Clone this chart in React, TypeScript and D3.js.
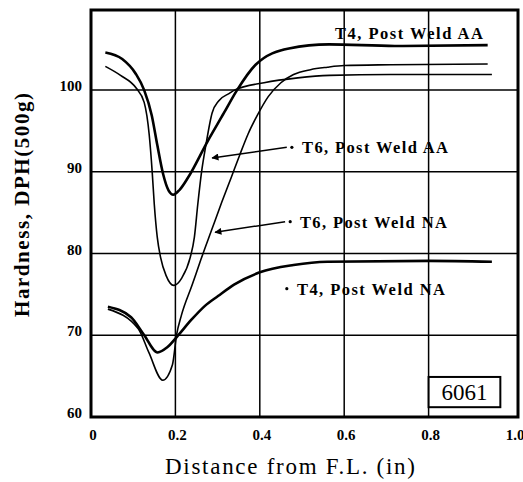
import React from 'react';
import * as d3 from 'd3';

// hardness traverse, 6061
const t4AA = [
  [0.034, 104.6], [0.074, 103.8], [0.106, 102.0], [0.126, 100.0], [0.144, 96.9],
  [0.157, 93.3], [0.171, 89.7], [0.184, 87.7], [0.195, 87.2], [0.21, 87.8],
  [0.23, 89.3], [0.276, 93.7], [0.315, 97.2], [0.345, 99.9], [0.39, 103.1],
  [0.469, 105.1], [0.564, 105.6], [0.72, 105.4], [0.94, 105.5],
];
const t6AA = [
  [0.034, 102.9], [0.07, 101.8], [0.107, 100.25], [0.126, 98.5], [0.138, 94.5],
  [0.145, 90], [0.15, 86], [0.157, 82], [0.165, 79.5], [0.178, 77.3],
  [0.196, 76.1], [0.215, 77], [0.235, 79.5], [0.245, 82], [0.253, 86],
  [0.262, 90], [0.272, 93.2], [0.287, 97.2], [0.303, 98.7], [0.328, 99.6],
  [0.34, 100], [0.41, 100.9], [0.49, 101.5], [0.565, 101.8], [0.71, 101.9], [0.95, 101.9],
];
const t6NA = [
  [0.04, 73.2], [0.112, 70.8], [0.137, 67.9], [0.17, 64.5], [0.193, 66.4],
  [0.203, 70.1], [0.214, 72.4], [0.24, 76.2], [0.26, 79.2], [0.286, 82.9],
  [0.31, 86.3], [0.333, 89.4], [0.352, 92.0], [0.372, 94.6], [0.394, 96.9],
  [0.42, 99.2], [0.45, 100.9], [0.48, 101.9], [0.52, 102.5], [0.56, 102.8],
  [0.6, 103.0], [0.71, 103.1], [0.94, 103.2],
];
const t4NA = [
  [0.04, 73.5], [0.095, 72.2], [0.125, 70.1], [0.158, 67.9], [0.18, 68.5],
  [0.205, 69.9], [0.238, 71.9], [0.27, 73.6], [0.301, 74.8], [0.339, 76.2],
  [0.40, 77.7], [0.48, 78.6], [0.56, 79], [0.8, 79.1], [0.95, 79],
];

const xTicks = [0, 0.2, 0.4, 0.6, 0.8, 1.0];
const xTickLabels = ['0', '0.2', '0.4', '0.6', '0.8', '1.0'];
const yTicks = [60, 70, 80, 90, 100];
const xGrid = [0.2, 0.4, 0.6, 0.8];
const yGrid = [70, 80, 90, 100];

const series = [
  { name: 'T4, Post Weld AA', data: t4AA, width: 2.6 },
  { name: 'T6, Post Weld AA', data: t6AA, width: 1.6 },
  { name: 'T6, Post Weld NA', data: t6NA, width: 1.6 },
  { name: 'T4, Post Weld NA', data: t4NA, width: 2.6 },
];

// label anchors in data units
const labels = [
  { text: 'T4, Post Weld AA', x: 0.578, y: 106.25, len: 148 },
  { text: 'T6, Post Weld AA', x: 0.5, y: 92.3, len: 146, dot: [0.476, 93.0], arrow: [0.464, 93.0, 0.287, 91.7] },
  { text: 'T6, Post Weld NA', x: 0.495, y: 83.1, len: 147, dot: [0.472, 83.9], arrow: [0.46, 83.9, 0.294, 82.6] },
  { text: 'T4, Post Weld NA', x: 0.488, y: 74.9, len: 148, dot: [0.464, 75.7] },
];

const font = '"Liberation Serif", "Times New Roman", serif';

export default function App() {
  const width = 523;
  const height = 482;
  const x = d3.scaleLinear().domain([0, 1]).range([91, 513]);
  const y = d3.scaleLinear().domain([60, 109.8]).range([417, 10]);
  const left = x(0);
  const right = x(1) + 5;
  const top = y(109.8);
  const bottom = y(60);

  const line = d3.line<number[]>()
    .x(d => x(d[0]))
    .y(d => y(d[1]))
    .curve(d3.curveMonotoneX);

  const boxX0 = x(0.8);
  const boxX1 = x(0.97);
  const boxY0 = y(64.9);
  const boxY1 = y(61.2);

  return (
    <svg width={width} height={height} style={{ position: 'absolute', left: 0, top: 0, background: '#fff' }}
      fontFamily={font}>
      <defs>
        <marker id="arr" viewBox="0 0 10 10" refX="9" refY="5" markerWidth="9" markerHeight="7"
          markerUnits="userSpaceOnUse" orient="auto">
          <path d="M0,0 L10,5 L0,10 z" fill="#000" />
        </marker>
      </defs>

      {/* grid */}
      {xGrid.map(v => (
        <line key={'gx' + v} x1={x(v)} x2={x(v)} y1={top} y2={bottom} stroke="#000" strokeWidth={1.5} />
      ))}
      {yGrid.map(v => (
        <line key={'gy' + v} x1={left} x2={right} y1={y(v)} y2={y(v)} stroke="#000" strokeWidth={1.5} />
      ))}

      {/* frame */}
      <rect x={left} y={top} width={right - left} height={bottom - top} fill="none" stroke="#000" strokeWidth={3} />

      {/* curves */}
      {series.map(s => (
        <path key={s.name} d={line(s.data) || ''} fill="none" stroke="#000" strokeWidth={s.width} />
      ))}

      {/* curve labels */}
      {labels.map(l => (
        <g key={l.text}>
          {l.dot && <circle cx={x(l.dot[0])} cy={y(l.dot[1])} r={1.6} fill="#000" />}
          {l.arrow && (
            <line x1={x(l.arrow[0])} y1={y(l.arrow[1])} x2={x(l.arrow[2])} y2={y(l.arrow[3])}
              stroke="#000" strokeWidth={1.5} markerEnd="url(#arr)" />
          )}
          <text x={x(l.x)} y={y(l.y)} fontSize={16.5} fontWeight="bold" textLength={l.len}
            lengthAdjust="spacing">{l.text}</text>
        </g>
      ))}

      {/* alloy box */}
      <rect x={boxX0} y={boxY0} width={boxX1 - boxX0} height={boxY1 - boxY0} fill="#fff" stroke="#000" strokeWidth={2} />
      <text x={(boxX0 + boxX1) / 2} y={boxY1 - 7} fontSize={23} textAnchor="middle">6061</text>

      {/* ticks */}
      {yTicks.map(v => (
        <text key={'yt' + v} x={82} y={y(v) + 1} fontSize={15} fontWeight="bold" textAnchor="end">{v}</text>
      ))}
      {xTicks.map((v, i) => (
        <text key={'xt' + v} x={x(v) + 2} y={440} fontSize={15} fontWeight="bold" textAnchor="middle">{xTickLabels[i]}</text>
      ))}

      {/* axis titles */}
      <text x={290} y={474} fontSize={23} textAnchor="middle" textLength={250} lengthAdjust="spacing">
        Distance from F.L. (in)
      </text>
      <text transform="translate(29,205) rotate(-90)" fontSize={21} fontWeight="bold" textAnchor="middle"
        textLength={224} lengthAdjust="spacing">
        Hardness, DPH(500g)
      </text>
    </svg>
  );
}
